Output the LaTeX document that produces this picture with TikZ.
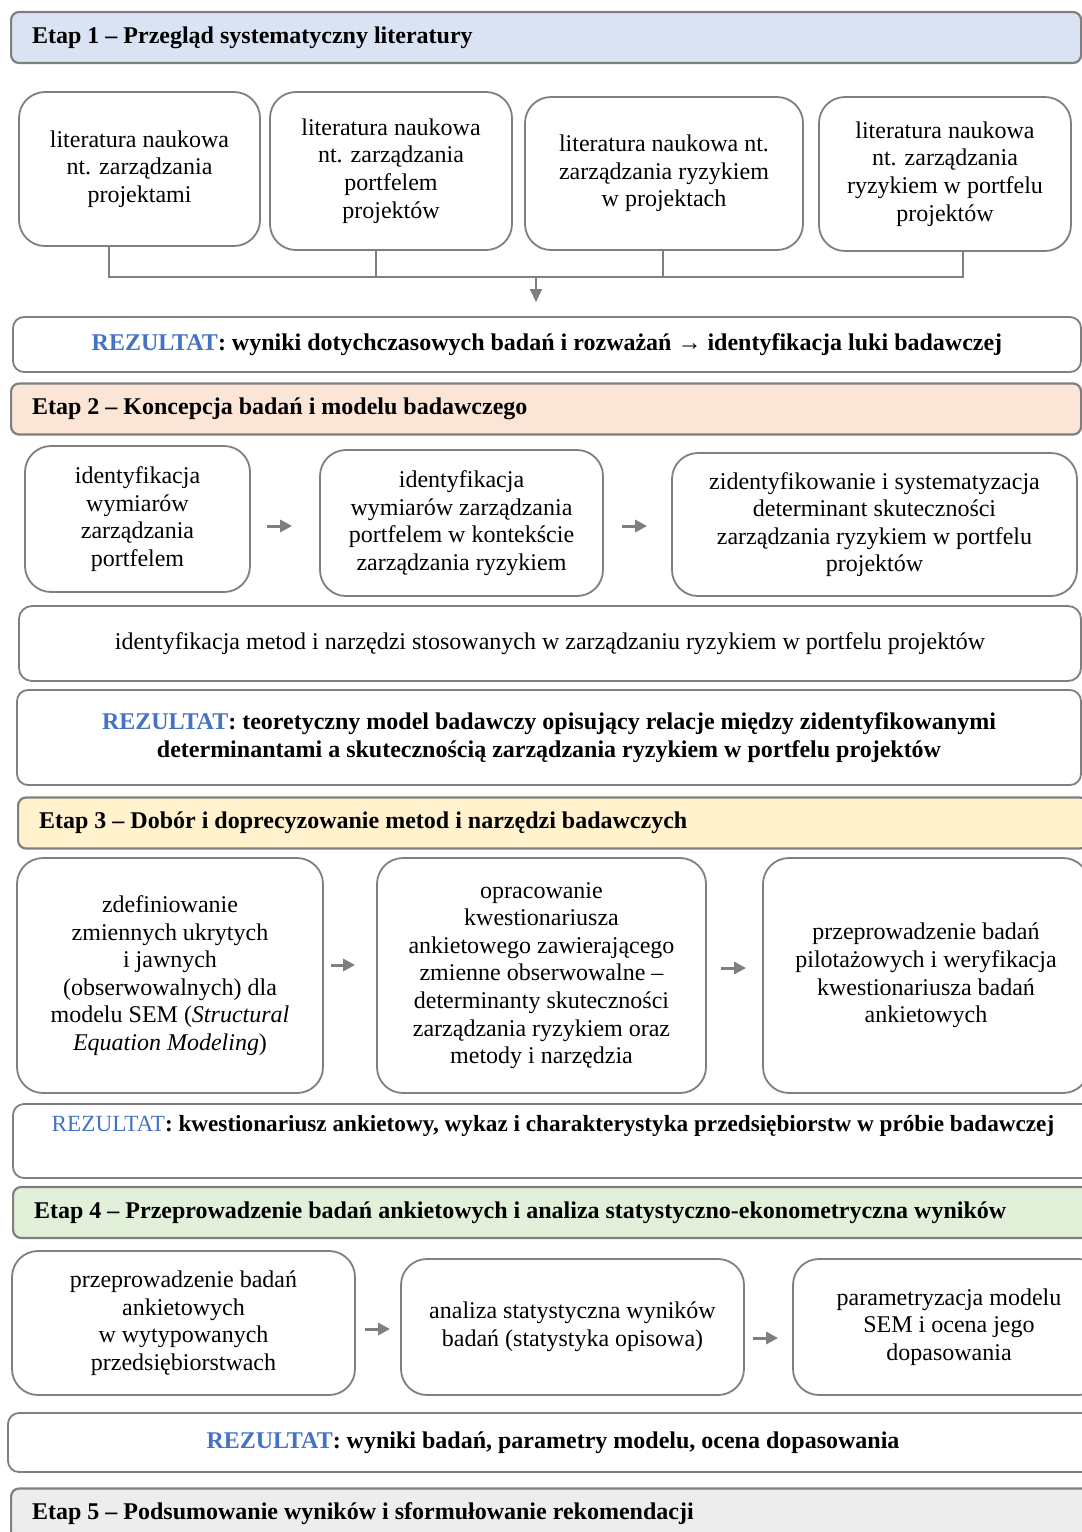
\documentclass[tikz,border=0pt]{standalone}
\usepackage{fontspec}
\setmainfont{Liberation Serif}
\usetikzlibrary{arrows.meta,positioning}

\definecolor{szary}{HTML}{7F7F7F}
\definecolor{etapA}{HTML}{DAE3F3}
\definecolor{etapB}{HTML}{FBE5D6}
\definecolor{etapC}{HTML}{FFF2CC}
\definecolor{etapD}{HTML}{E2F0D9}
\definecolor{etapE}{HTML}{EDEDED}
\definecolor{niebieski}{HTML}{4472C4}

\newcommand{\tekst}{\fontsize{24}{27.6}\selectfont}
\newcommand{\rez}{\textcolor{niebieski}{REZULTAT}}

\tikzset{
  ramka/.style={draw=szary,line width=1.8pt,align=center,inner sep=0pt,font=\tekst},
  krok/.style={ramka,rounded corners=26pt},
  wynik/.style={ramka,rounded corners=11pt,font=\tekst\bfseries},
  etap/.style={draw=szary,line width=2.2pt,rounded corners=8pt,anchor=west,
    minimum height=51pt,text width=1028pt,align=left,inner xsep=21pt,inner ysep=0pt,
    font=\tekst\bfseries,execute at begin node={\spaceskip=0pt\xspaceskip=0pt\relax}},
  linia/.style={draw=szary,line width=1.4pt},
  strzalka/.style={linia,-{Triangle[length=13pt,width=12pt]}},
  strz/.style={draw=szary,line width=3pt,-{Triangle[length=12pt,width=12pt]}}
}

\begin{document}
\begin{tikzpicture}[x=1pt,y=-1pt]
  \useasboundingbox (0,0) rectangle (1082,1532);
  \clip (0,0) rectangle (1082,1532);

  % Etap 1
  \node[etap,fill=etapA] (etap1) at (10,37.5) {Etap 1 – Przegląd systematyczny literatury};

  \node[krok,minimum width=241pt,minimum height=154pt] (lit1) at (139.5,169)
    {literatura naukowa\\nt. zarządzania\\projektami};
  \node[krok,minimum width=242pt,minimum height=158pt] (lit2) at (391,171)
    {literatura naukowa\\nt. zarządzania\\portfelem\\projektów};
  \node[krok,minimum width=278pt,minimum height=153pt] (lit3) at (664,173.5)
    {literatura naukowa nt.\\zarządzania ryzykiem\\w projektach};
  \node[krok,minimum width=252pt,minimum height=154pt] (lit4) at (945,174)
    {literatura naukowa\\nt. zarządzania\\ryzykiem w portfelu\\projektów};

  \node[wynik,minimum width=1068pt,minimum height=55pt] (rez1) at (547,344.5)
    {\rez: wyniki dotychczasowych badań i rozważań → identyfikacja luki badawczej};

  % zbieranie literatury
  \coordinate (szynaL) at (109,277);
  \coordinate (szynaP) at (963,277);
  \coordinate (zbior) at (536,277);
  \draw[linia] ([xshift=-30.5pt]lit1.south) -- (szynaL) -- (szynaP) -- ([xshift=18pt]lit4.south);
  \draw[linia] ([xshift=-15pt]lit2.south) -- ([xshift=-15pt]lit2.south |- szynaL);
  \draw[linia] ([xshift=-1pt]lit3.south) -- ([xshift=-1pt]lit3.south |- szynaL);
  \draw[strzalka,shorten >=14pt] (zbior) -- (zbior |- rez1.north);

  % Etap 2
  \node[etap,fill=etapB] (etap2) at (10,409) {Etap 2 – Koncepcja badań i modelu badawczego};

  \node[krok,minimum width=225pt,minimum height=146pt] (ide1) at (137.5,519)
    {identyfikacja\\wymiarów\\zarządzania\\portfelem};
  \node[krok,minimum width=283pt,minimum height=146pt] (ide2) at (461.5,523)
    {identyfikacja\\wymiarów zarządzania\\portfelem w kontekście\\zarządzania ryzykiem};
  \node[krok,minimum width=405pt,minimum height=143pt] (ide3) at (874.5,524.5)
    {zidentyfikowanie i systematyzacja\\determinant skuteczności\\zarządzania ryzykiem w portfelu\\projektów};
  \draw[strz] ([shift={(16,7)}]ide1.east) -- ([shift={(-27,3)}]ide2.west);
  \draw[strz] ([shift={(18,3)}]ide2.east) -- ([shift={(-24,1.5)}]ide3.west);

  \node[ramka,rounded corners=13pt,minimum width=1062pt,minimum height=75pt] (metody) at (550,643.5)
    {identyfikacja metod i narzędzi stosowanych w zarządzaniu ryzykiem w portfelu projektów};

  \node[wynik,minimum width=1064pt,minimum height=95pt] (rez2) at (549,737.5)
    {\rez: teoretyczny model badawczy opisujący relacje między zidentyfikowanymi\\
     determinantami a skutecznością zarządzania ryzykiem w portfelu projektów};

  % Etap 3
  \node[etap,fill=etapC] (etap3) at (17,823) {Etap 3 – Dobór i doprecyzowanie metod i narzędzi badawczych};

  \node[krok,minimum width=306pt,minimum height=235pt] (zm1) at (170,975.5)
    {zdefiniowanie\\zmiennych ukrytych\\i jawnych\\(obserwowalnych) dla\\modelu SEM (\textit{Structural}\\\textit{Equation Modeling})};
  \node[krok,minimum width=329pt,minimum height=235pt] (zm2) at (541.5,975.5)
    {opracowanie\\kwestionariusza\\ankietowego zawierającego\\zmienne obserwowalne –\\determinanty skuteczności\\zarządzania ryzykiem oraz\\metody i narzędzia};
  \node[krok,minimum width=326pt,minimum height=235pt] (zm3) at (926,975.5)
    {przeprowadzenie badań\\pilotażowych i weryfikacja\\kwestionariusza badań\\ankietowych};
  \draw[strz] ([shift={(7,-10.5)}]zm1.east) -- ([shift={(-21,-10.5)}]zm2.west);
  \draw[strz] ([shift={(14,-7.5)}]zm2.east) -- ([shift={(-16,-7.5)}]zm3.west);

  \node[wynik,font=\fontsize{23.2}{27.6}\selectfont\bfseries,minimum width=1080pt,minimum height=74pt] (rez3) at (553,1141)
    {{\mdseries\rez}: kwestionariusz ankietowy, wykaz i charakterystyka przedsiębiorstw w próbie badawczej\\\strut};

  % Etap 4
  \node[etap,fill=etapD,text width=1040pt] (etap4) at (12,1212.5)
    {Etap 4 – Przeprowadzenie badań ankietowych i analiza statystyczno-ekonometryczna wyników};

  \node[krok,minimum width=343pt,minimum height=144pt] (pb1) at (183.5,1323)
    {przeprowadzenie badań\\ankietowych\\w wytypowanych\\przedsiębiorstwach};
  \node[krok,minimum width=343pt,minimum height=136pt] (pb2) at (572.5,1327)
    {analiza statystyczna wyników\\badań (statystyka opisowa)};
  \node[krok,minimum width=312pt,minimum height=136pt] (pb3) at (949,1327)
    {parametryzacja modelu\\SEM i ocena jego\\dopasowania};
  \draw[strz] ([shift={(9,6)}]pb1.east) -- ([shift={(-10,2)}]pb2.west);
  \draw[strz] ([shift={(8,11)}]pb2.east) -- ([shift={(-14,11)}]pb3.west);

  \node[wynik,minimum width=1090pt,minimum height=59pt] (rez4) at (553,1442.5)
    {\rez: wyniki badań, parametry modelu, ocena dopasowania};

  % Etap 5
  \node[etap,fill=etapE,text width=1040pt] (etap5) at (10,1514)
    {Etap 5 – Podsumowanie wyników i sformułowanie rekomendacji};
\end{tikzpicture}
\end{document}
